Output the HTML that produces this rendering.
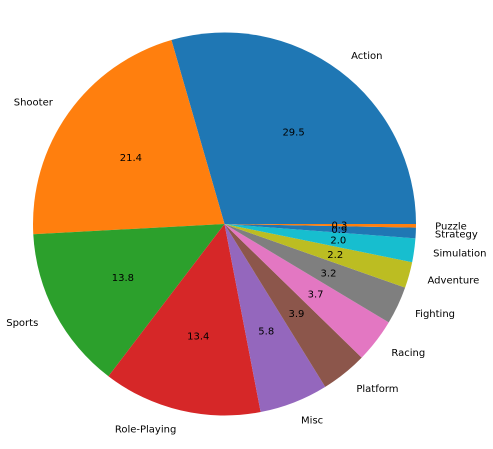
<!DOCTYPE html>
<html><head><meta charset="utf-8"><style>
body{margin:0;background:#fff}
svg{display:block;font-family:"DejaVu Sans","Liberation Sans",sans-serif;font-size:10px}
</style></head><body>
<svg id="chart" width="493" height="449" viewBox="0 0 493 449"></svg>
<script>
const categories=["Action","Shooter","Sports","Role-Playing","Misc","Platform","Racing","Fighting","Adventure","Simulation","Strategy","Puzzle"];
const values=[29.5,21.4,13.8,13.4,5.8,3.9,3.7,3.2,2.2,2.0,0.9,0.3];
const colors=["#1f77b4","#ff7f0e","#2ca02c","#d62728","#9467bd","#8c564b","#e377c2","#7f7f7f","#bcbd22","#17becf","#1f77b4","#ff7f0e"];
const svg=document.getElementById('chart');
const NS="http://www.w3.org/2000/svg";
const cx=224.5,cy=224,r=191.5;
const total=values.reduce((a,b)=>a+b,0);
let a0=0;
function pt(a,rr){return [cx+rr*Math.cos(a),cy-rr*Math.sin(a)];}
values.forEach((v,i)=>{
  const a1=a0+v/total*2*Math.PI;
  const p0=pt(a0,r),p1=pt(a1,r);
  const large=(a1-a0)>Math.PI?1:0;
  const path=document.createElementNS(NS,'path');
  path.setAttribute('d',`M${cx},${cy}L${p0[0]},${p0[1]}A${r},${r} 0 ${large} 0 ${p1[0]},${p1[1]}Z`);
  path.setAttribute('fill',colors[i]);
  
  
  svg.appendChild(path);
  const am=(a0+a1)/2;
  const lp=pt(am,r*1.1);
  const t=document.createElementNS(NS,'text');
  t.setAttribute('x',lp[0]);t.setAttribute('y',lp[1]+1);
  t.setAttribute('dominant-baseline','central');
  t.setAttribute('text-anchor',Math.cos(am)>=0?'start':'end');
  t.textContent=categories[i];
  
  
  svg.appendChild(t);
  const pp=pt(am,r*0.6);
  const tp=document.createElementNS(NS,'text');
  tp.setAttribute('x',pp[0]);tp.setAttribute('y',pp[1]+1);
  tp.setAttribute('dominant-baseline','central');
  tp.setAttribute('text-anchor','middle');
  tp.textContent=v.toFixed(1);
  
  
  svg.appendChild(tp);
  a0=a1;
});
</script>
</body></html>
